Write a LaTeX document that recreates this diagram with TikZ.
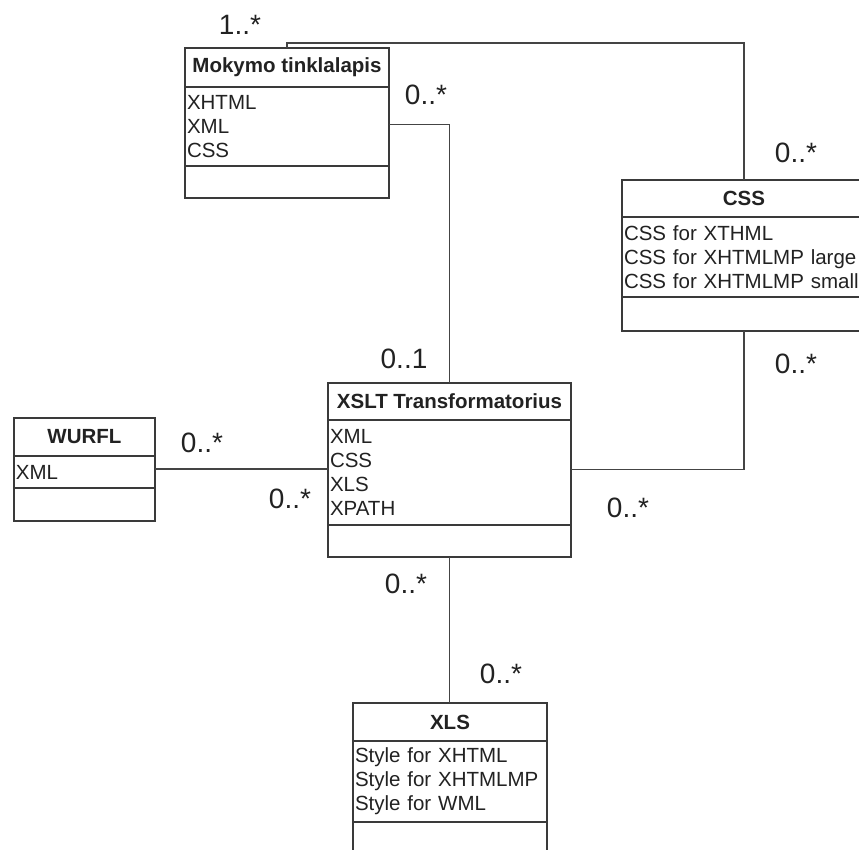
\documentclass[tikz,border=0pt]{standalone}
\usepackage{fontspec}
\setmainfont{Liberation Sans}
\usepackage{tikz}
\usetikzlibrary{positioning, calc}
\usepackage{xcolor}
\definecolor{BoxGrey}{HTML}{3A3A3A}
\definecolor{LineGrey}{HTML}{444444}
\definecolor{TextGrey}{HTML}{222222}
\newcommand{\headfont}{\fontsize{20.5}{24}\selectfont\bfseries}
\newcommand{\attrfont}{\fontsize{20.5}{24}\selectfont}
\newcommand{\multfont}{\fontsize{28}{30}\selectfont}
\tikzset{
  % Class name compartment
  classname/.style={
    rectangle, draw=BoxGrey, line width=1.5pt,
    fill=white, font=\headfont, text=TextGrey,
    align=center, inner sep=0pt, outer sep=0pt,
    anchor=north west
  },
  % Attribute compartment
  classattr/.style={
    rectangle, draw=BoxGrey, line width=1.5pt,
    fill=white, font=\attrfont, text=TextGrey,
    align=left, inner xsep=2pt, inner ysep=0pt,
    outer sep=0pt
  },
  % Empty operation compartment
  classops/.style={
    rectangle, draw=BoxGrey, line width=1.5pt,
    fill=white, inner sep=0pt, outer sep=0pt
  },
  % Association line
  assoc/.style={
    draw=LineGrey, line width=1.8pt
  },
  % Multiplicity label
  mult/.style={
    font=\multfont, text=TextGrey, inner sep=0pt
  }
}

\begin{document}
\begin{tikzpicture}[x=1pt, y=1pt]

\path[fill=white] (0,0) rectangle (859,850);
\useasboundingbox (0,0) rectangle (859,850);

% Web page
\node[classname, minimum width=204pt, minimum height=39pt] (mok)
  at (185,802) {Mokymo tinklalapis};
\node[classattr, text width=200pt, minimum height=79pt,
      below=0pt of mok] (mok_attr)
  {XHTML\\XML\\CSS};
\node[classops, minimum width=204pt, minimum height=32pt,
      below=0pt of mok_attr] (mok_ops) {};

% Style sheets
\node[classname, minimum width=244pt, minimum height=37pt] (css)
  at (622,670) {CSS};
\node[classattr, text width=240pt, minimum height=80pt,
      below=0pt of css] (css_attr)
  {CSS for XTHML\\CSS for XHTMLMP large\\CSS for XHTMLMP small};
\node[classops, minimum width=244pt, minimum height=34pt,
      below=0pt of css_attr] (css_ops) {};

% Device data
\node[classname, minimum width=141pt, minimum height=38pt] (wurfl)
  at (14,432) {WURFL};
\node[classattr, text width=137pt, minimum height=32pt,
      below=0pt of wurfl] (wurfl_attr)
  {XML};
\node[classops, minimum width=141pt, minimum height=33pt,
      below=0pt of wurfl_attr] (wurfl_ops) {};

% Transformer
\node[classname, minimum width=243pt, minimum height=37pt] (xslt)
  at (328,467) {XSLT Transformatorius};
\node[classattr, text width=239pt, minimum height=105pt,
      below=0pt of xslt] (xslt_attr)
  {XML\\CSS\\XLS\\XPATH};
\node[classops, minimum width=243pt, minimum height=32pt,
      below=0pt of xslt_attr] (xslt_ops) {};

% Transformation styles
\node[classname, minimum width=194pt, minimum height=38pt] (xls)
  at (353,147) {XLS};
\node[classattr, text width=190pt, minimum height=81pt,
      below=0pt of xls] (xls_attr)
  {Style for XHTML\\Style for XHTMLMP\\Style for WML};
\node[classops, minimum width=194pt, minimum height=32pt,
      below=0pt of xls_attr] (xls_ops) {};

% Associations
\draw[assoc] (mok.north) -- ++(0,5) -| (css.north);
\draw[assoc] ([yshift=2pt]mok_attr.east) -| (xslt.north);
\draw[assoc] ([yshift=3pt]xslt_attr.east) -| (css_ops.south);
\draw[assoc] ([yshift=3pt]wurfl_attr.east) -- ([yshift=3pt]wurfl_attr.east -| xslt_attr.west);
\draw[assoc] (xslt_ops.south) -- (xslt_ops.south |- xls.north);

% Multiplicities
\node[mult] (m_mok_top)    at (240,825) {1..*};
\node[mult] (m_mok_right)  at (426,755) {0..*};
\node[mult] (m_css_top)    at (796,697) {0..*};
\node[mult] (m_xslt_top)   at (404,491) {0..1};
\node[mult] (m_css_bottom) at (796,486) {0..*};
\node[mult] (m_wurfl)      at (202,407) {0..*};
\node[mult] (m_xslt_left)  at (290,351) {0..*};
\node[mult] (m_xslt_right) at (628,342) {0..*};
\node[mult] (m_xslt_bot)   at (406,266) {0..*};
\node[mult] (m_xls_top)    at (501,176) {0..*};

\end{tikzpicture}
\end{document}
